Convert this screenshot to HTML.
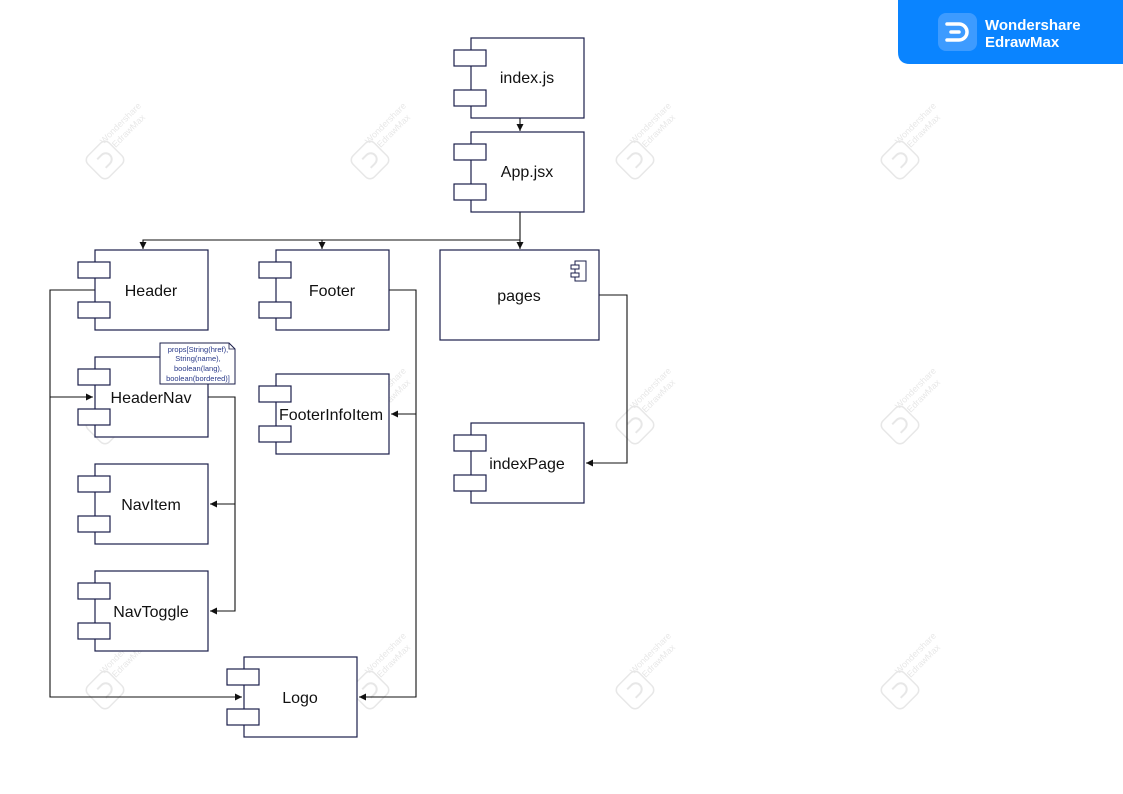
<!DOCTYPE html>
<html><head><meta charset="utf-8"><style>
html,body{margin:0;padding:0;background:#fff;}
svg{display:block;font-family:"Liberation Sans",Arial,sans-serif;}
</style></head><body>
<svg width="1123" height="794" viewBox="0 0 1123 794" xmlns="http://www.w3.org/2000/svg">
<defs>
<marker id="a" markerWidth="8" markerHeight="8" refX="7" refY="4" orient="auto" markerUnits="userSpaceOnUse">
<path d="M0,0.5 L7,4 L0,7.5 z" fill="#111"/></marker>
<g id="c">
<rect x="0" y="0" width="113" height="80" fill="#fff" stroke="#1b1f4b" stroke-width="1.2"/>
<rect x="-17" y="12" width="32" height="16" fill="#fff" stroke="#1b1f4b" stroke-width="1.2"/>
<rect x="-17" y="52" width="32" height="16" fill="#fff" stroke="#1b1f4b" stroke-width="1.2"/>
</g>
<g id="w" opacity="0.35">
<rect x="-15" y="-15" width="30" height="30" rx="6" transform="rotate(-45)" fill="none" stroke="#bbb" stroke-width="1.5"/>
<path d="M-5,-6 H1 A6,6 0 0 1 1,6 H-5" fill="none" stroke="#bbb" stroke-width="2" transform="rotate(-45)"/>
<g transform="rotate(-45) translate(10,-12)" font-size="9" fill="#bbb">
<text x="0" y="0">Wondershare</text><text x="6" y="11">EdrawMax</text></g>
</g>
</defs>
<use href="#w" x="105" y="160"/><use href="#w" x="370" y="160"/><use href="#w" x="635" y="160"/><use href="#w" x="900" y="160"/>
<use href="#w" x="105" y="425"/><use href="#w" x="370" y="425"/><use href="#w" x="635" y="425"/><use href="#w" x="900" y="425"/>
<use href="#w" x="105" y="690"/><use href="#w" x="370" y="690"/><use href="#w" x="635" y="690"/><use href="#w" x="900" y="690"/>
<!-- logo badge -->
<path d="M898,0 H1123 V64 H910 Q898,64 898,52 Z" fill="#0a84ff"/>
<rect x="938" y="13" width="39" height="38" rx="8" fill="#3d9bff"/>
<path d="M947,24 H959 A8,8 0 0 1 959,40 H947" fill="none" stroke="#fff" stroke-width="3.5" stroke-linecap="round"/>
<line x1="951" y1="32" x2="959" y2="32" stroke="#fff" stroke-width="3.5" stroke-linecap="round"/>
<text x="985" y="30" font-size="15" font-weight="bold" fill="#fff">Wondershare</text>
<text x="985" y="47" font-size="15" font-weight="bold" fill="#fff">EdrawMax</text>

<g fill="none" stroke="#111" stroke-width="1.1">
<line x1="520" y1="118" x2="520" y2="131" marker-end="url(#a)"/>
<polyline points="520,212 520,249" marker-end="url(#a)"/>
<polyline points="520,240 143,240 143,249" marker-end="url(#a)"/>
<line x1="322" y1="240" x2="322" y2="249" marker-end="url(#a)"/>
<polyline points="95,290 50,290 50,697 242,697" marker-end="url(#a)"/>
<line x1="50" y1="397" x2="93" y2="397" marker-end="url(#a)"/>
<polyline points="208,397 235,397 235,611 210,611" marker-end="url(#a)"/>
<line x1="235" y1="504" x2="210" y2="504" marker-end="url(#a)"/>
<polyline points="389,290 416,290 416,697 359,697" marker-end="url(#a)"/>
<line x1="416" y1="414" x2="391" y2="414" marker-end="url(#a)"/>
<polyline points="599,295 627,295 627,463 586,463" marker-end="url(#a)"/>
</g>

<use href="#c" x="471" y="38"/>
<use href="#c" x="471" y="132"/>
<use href="#c" x="95" y="250"/>
<use href="#c" x="276" y="250"/>
<use href="#c" x="95" y="357"/>
<use href="#c" x="276" y="374"/>
<use href="#c" x="471" y="423"/>
<use href="#c" x="95" y="464"/>
<use href="#c" x="95" y="571"/>
<use href="#c" x="244" y="657"/>
<rect x="440" y="250" width="159" height="90" fill="#fff" stroke="#1b1f4b" stroke-width="1.2"/>
<g fill="#fff" stroke="#1b1f4b" stroke-width="1">
<rect x="575" y="261" width="11" height="20"/>
<rect x="571" y="265" width="8" height="4"/>
<rect x="571" y="273" width="8" height="4"/>
</g>

<g font-size="16" fill="#111" text-anchor="middle">
<text x="527" y="83">index.js</text>
<text x="527" y="177">App.jsx</text>
<text x="151" y="296">Header</text>
<text x="332" y="296">Footer</text>
<text x="519" y="301">pages</text>
<text x="151" y="403">HeaderNav</text>
<text x="331" y="420">FooterInfoItem</text>
<text x="527" y="469">indexPage</text>
<text x="151" y="510">NavItem</text>
<text x="151" y="617">NavToggle</text>
<text x="300" y="703">Logo</text>
</g>

<path d="M160,343 H229 L235,349 V384 H160 Z" fill="#fff" stroke="#1b1f4b" stroke-width="1"/>
<path d="M229,343 V349 H235" fill="none" stroke="#1b1f4b" stroke-width="0.8"/>
<g font-size="7.5" fill="#2a3a8a" text-anchor="middle">
<text x="198" y="352">props[String(href),</text>
<text x="198" y="361">String(name),</text>
<text x="198" y="371">boolean(lang),</text>
<text x="198" y="381">boolean(bordered)]</text>
</g>
</svg>
</body></html>
